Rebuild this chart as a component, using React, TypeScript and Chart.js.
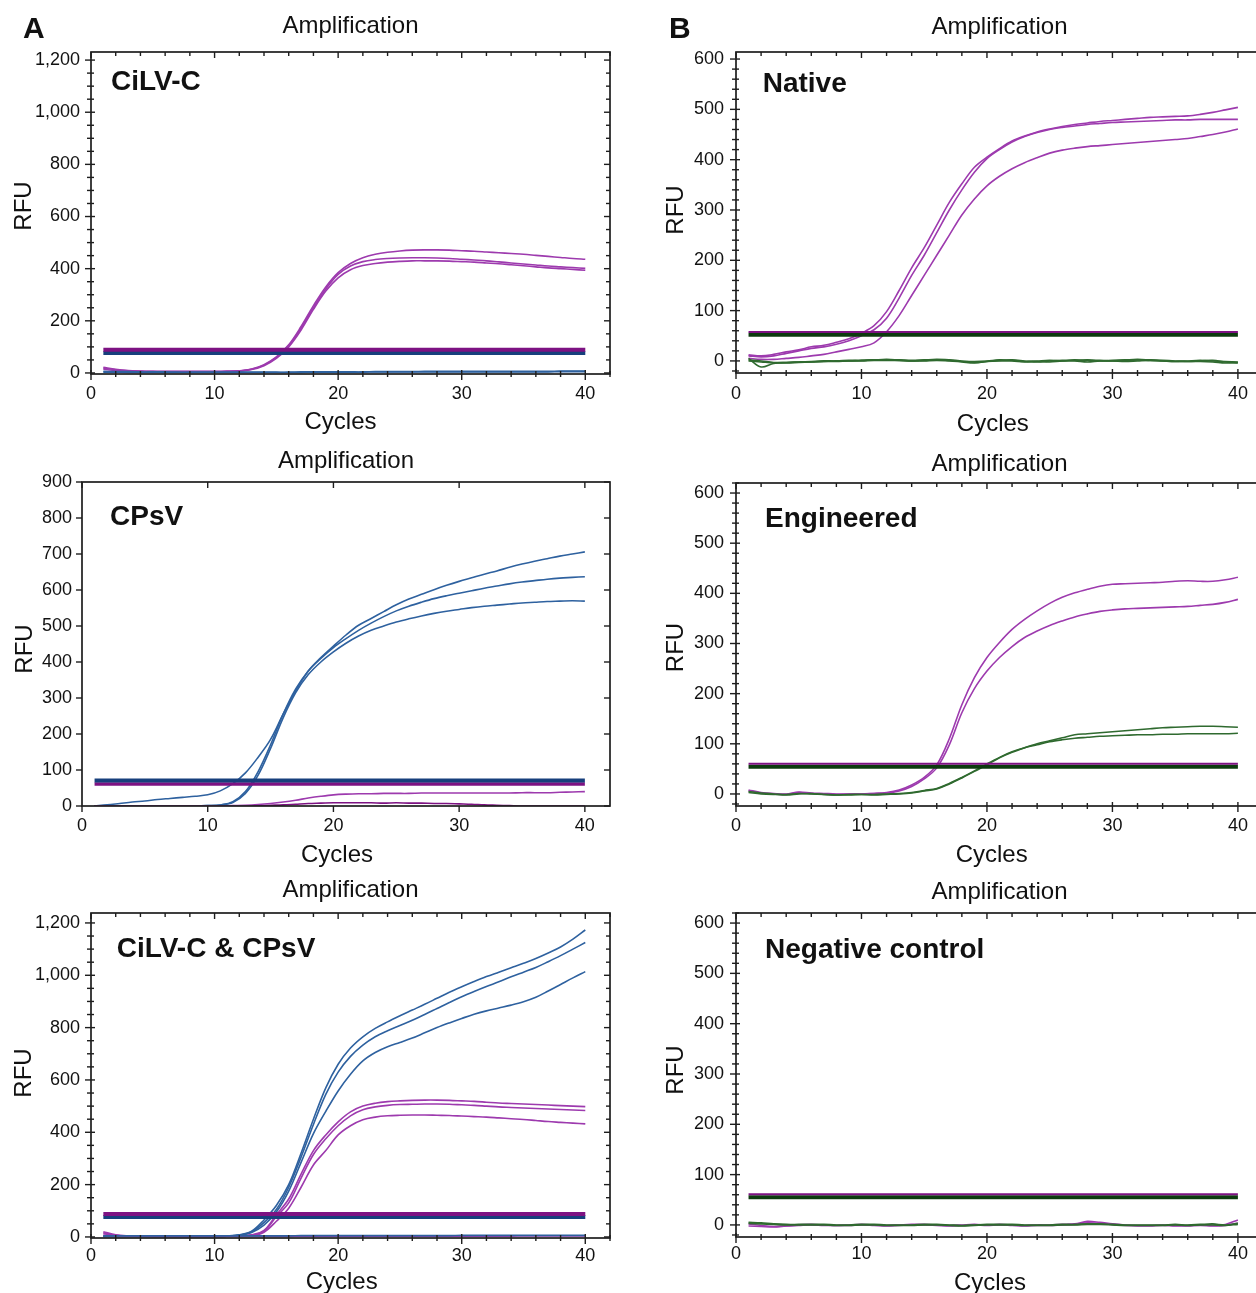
import React, { useEffect, useRef } from 'react';
import { Chart, registerables } from 'chart.js';

Chart.register(...registerables);

const FONT = "'Liberation Sans', Arial, Helvetica, sans-serif";

// ---------------- data ----------------
const CYCLES = [1, 2, 3, 4, 5, 6, 7, 8, 9, 10, 11, 12, 13, 14, 15, 16, 17, 18, 19, 20, 21, 22, 23, 24, 25, 26, 27, 28, 29, 30, 31, 32, 33, 34, 35, 36, 37, 38, 39, 40];
const X_TICKS = [0, 10, 20, 30, 40];
const Y_TICKS_1200 = [0, 200, 400, 600, 800, 1000, 1200];
const Y_TICKS_900 = [0, 100, 200, 300, 400, 500, 600, 700, 800, 900];
const Y_TICKS_600 = [0, 100, 200, 300, 400, 500, 600];

// A – CiLV-C
const CILVC_R1 = [22, 14, 9, 7, 6, 5, 5, 5, 5, 5, 6, 8, 15, 32, 62, 108, 178, 258, 330, 385, 420, 442, 455, 463, 468, 471, 472, 472, 471, 469, 467, 464, 461, 458, 455, 451, 447, 443, 439, 436];
const CILVC_R2 = [18, 12, 8, 6, 5, 5, 5, 5, 5, 5, 6, 8, 14, 30, 60, 105, 172, 250, 322, 378, 410, 427, 435, 439, 441, 442, 442, 441, 439, 436, 433, 430, 426, 422, 418, 414, 410, 407, 404, 401];
const CILVC_R3 = [14, 10, 7, 5, 5, 5, 5, 5, 5, 5, 6, 7, 13, 28, 56, 100, 165, 244, 314, 365, 396, 412, 420, 425, 428, 430, 430, 430, 429, 427, 425, 422, 419, 415, 411, 407, 403, 400, 397, 394];
const CILVC_OFF1 = [6, 5, 5, 4, 4, 4, 3, 3, 3, 3, 3, 3, 3, 3, 3, 3, 4, 4, 4, 4, 4, 4, 5, 5, 5, 5, 6, 6, 6, 6, 6, 6, 6, 6, 6, 6, 6, 7, 7, 7];
const CILVC_OFF2 = [3, 3, 2, 2, 2, 2, 2, 2, 2, 2, 2, 2, 2, 2, 2, 2, 2, 3, 3, 3, 3, 3, 4, 4, 4, 4, 4, 4, 4, 4, 4, 4, 4, 4, 4, 4, 4, 5, 5, 5];
const CILVC_THR_CILVC = 89;
const CILVC_THR_CPSV = 77;

// A – CPsV
const CPSV_R1 = [0, 3, 7, 11, 14, 18, 21, 24, 27, 31, 42, 62, 92, 135, 185, 255, 320, 375, 412, 444, 475, 502, 521, 540, 559, 575, 588, 601, 613, 624, 634, 644, 653, 663, 672, 680, 687, 694, 700, 706];
const CPSV_R2 = [0, 0, 0, 0, 0, 0, 0, 0, 0, 1, 3, 12, 40, 95, 170, 255, 325, 375, 410, 440, 465, 488, 508, 526, 542, 555, 566, 576, 584, 591, 598, 605, 611, 617, 622, 626, 630, 633, 635, 637];
const CPSV_R3 = [0, 0, 0, 0, 0, 0, 0, 0, 0, 1, 3, 10, 35, 85, 160, 245, 315, 365, 400, 428, 452, 472, 488, 500, 511, 520, 528, 535, 541, 546, 551, 555, 558, 561, 564, 566, 568, 569, 570, 569];
const CPSV_OFF1 = [0, 0, 0, 0, 0, 0, 0, 0, 0, 0, 0, 1, 2, 4, 7, 11, 16, 22, 27, 31, 33, 34, 34, 35, 35, 35, 36, 36, 36, 36, 36, 36, 36, 36, 37, 37, 37, 38, 39, 40];
const CPSV_OFF2 = [0, 0, 0, 0, 0, 0, 0, 0, 0, 0, 0, 0, 0, 1, 2, 3, 5, 7, 8, 9, 9, 9, 9, 8, 9, 8, 8, 7, 7, 6, 5, 3, 2, 1, 0, 0, 0, 0, 0, 0];
const CPSV_THR_CPSV = 71;
const CPSV_THR_CILVC = 61;

// A – CiLV-C & CPsV
const DUAL_CPSV_R1 = [3, 3, 3, 3, 3, 3, 3, 3, 3, 3, 4, 8, 22, 65, 120, 200, 320, 450, 570, 660, 722, 765, 797, 822, 845, 867, 889, 912, 935, 956, 976, 995, 1012, 1029, 1046, 1064, 1085, 1108, 1138, 1173];
const DUAL_CPSV_R2 = [2, 2, 2, 2, 2, 2, 2, 2, 2, 2, 3, 7, 20, 55, 105, 190, 305, 430, 545, 630, 690, 733, 765, 788, 808, 828, 850, 873, 896, 918, 938, 957, 975, 994, 1012, 1030, 1052, 1075, 1100, 1125];
const DUAL_CPSV_R3 = [2, 2, 2, 2, 2, 2, 2, 2, 2, 2, 3, 6, 17, 45, 95, 175, 285, 395, 480, 558, 622, 673, 705, 727, 743, 760, 780, 800, 818, 835, 851, 864, 875, 886, 899, 916, 940, 965, 990, 1014];
const DUAL_CILVC_R1 = [20, 8, 4, 3, 3, 3, 3, 3, 3, 3, 3, 4, 8, 25, 85, 145, 240, 330, 390, 440, 478, 500, 511, 517, 520, 522, 523, 523, 522, 520, 518, 515, 512, 510, 508, 506, 504, 502, 500, 498];
const DUAL_CILVC_R2 = [16, 6, 3, 3, 3, 3, 3, 3, 3, 3, 3, 4, 7, 22, 78, 130, 225, 315, 375, 425, 463, 486, 497, 503, 506, 507, 508, 508, 507, 505, 503, 500, 497, 495, 493, 491, 489, 487, 485, 483];
const DUAL_CILVC_R3 = [12, 5, 3, 3, 3, 3, 3, 3, 3, 3, 3, 3, 5, 18, 60, 110, 190, 275, 330, 390, 425, 448, 458, 463, 465, 466, 466, 465, 464, 462, 460, 458, 455, 452, 449, 445, 441, 438, 435, 432];
const DUAL_OFF1 = [4, 4, 4, 4, 4, 4, 4, 4, 4, 4, 4, 4, 4, 4, 4, 4, 5, 5, 5, 5, 5, 5, 5, 5, 5, 5, 5, 5, 5, 6, 6, 6, 6, 6, 6, 6, 6, 6, 6, 6];
const DUAL_OFF2 = [6, 4, 3, 3, 2, 2, 2, 2, 2, 2, 2, 2, 2, 2, 2, 2, 3, 3, 3, 3, 3, 3, 3, 3, 3, 3, 3, 3, 3, 3, 3, 3, 3, 3, 4, 4, 4, 4, 4, 4];
const DUAL_THR_CILVC = 88;
const DUAL_THR_CPSV = 76;

// B – Native
const NATIVE_R1 = [12, 10, 13, 18, 22, 28, 31, 37, 44, 55, 70, 98, 140, 185, 225, 270, 315, 352, 385, 405, 422, 437, 447, 455, 461, 466, 470, 473, 476, 478, 480, 482, 484, 485, 486, 487, 490, 494, 499, 504];
const NATIVE_R2 = [10, 8, 10, 15, 20, 25, 28, 33, 40, 50, 62, 85, 125, 170, 210, 255, 300, 340, 375, 402, 420, 435, 446, 454, 460, 464, 467, 470, 472, 474, 475, 476, 477, 478, 479, 479, 480, 480, 480, 480];
const NATIVE_R3 = [5, 3, 3, 5, 7, 10, 13, 18, 23, 28, 36, 58, 90, 130, 170, 210, 250, 290, 322, 348, 367, 382, 394, 404, 413, 419, 423, 426, 428, 430, 432, 434, 436, 438, 440, 442, 446, 450, 455, 461];
const NATIVE_G1 = [5, -12, -5, -3, -2, -2, -1, 0, 0, 1, 2, 3, 2, 1, 2, 3, 2, 0, -3, -1, 1, 2, 0, -2, 0, 1, 2, 1, 0, 1, 2, 3, 2, 1, 0, -1, 0, 1, -2, -4];
const NATIVE_G2 = [2, 0, -3, -3, -2, -1, 0, 0, 1, 1, 2, 2, 1, 0, 1, 2, 1, -1, -1, 0, 2, 1, -1, 0, 1, 0, 1, 2, 1, 0, 1, 2, 1, 0, -1, 0, 1, 0, -1, -2];
const NATIVE_G3 = [0, -2, -4, -4, -3, -2, -1, -1, 0, 0, 1, 1, 1, 0, 0, 1, 0, -2, -4, -1, 0, 0, -2, -1, -2, 0, 0, -2, 0, 0, -1, 0, 1, 0, -1, -1, -1, -2, -4, -3];
const NATIVE_THR_P = 57.5;
const NATIVE_THR_G = 52;

// B – Engineered
const ENG_R1 = [8, 3, 1, 0, 4, 2, 1, 0, 0, 0, 1, 3, 8, 18, 33, 58, 110, 178, 232, 272, 302, 328, 348, 365, 380, 392, 401, 408, 414, 418, 419, 420, 421, 422, 424, 425, 424, 424, 427, 432];
const ENG_R2 = [6, 2, 0, -1, 3, 1, 0, -1, 0, 0, 1, 2, 6, 15, 30, 52, 98, 162, 210, 245, 272, 294, 312, 325, 336, 345, 353, 359, 364, 367, 369, 370, 371, 372, 373, 374, 376, 378, 382, 388];
const ENG_G1 = [5, 2, 0, -2, 0, 1, -1, -2, -1, -1, -2, -1, 0, 2, 6, 10, 20, 32, 45, 58, 72, 83, 92, 100, 106, 112, 118, 120, 122, 124, 126, 128, 130, 132, 133, 134, 135, 135, 134, 133];
const ENG_G2 = [3, 0, -1, -1, 1, 0, -1, -2, -2, -1, -1, 0, 1, 3, 7, 11, 21, 33, 46, 60, 73, 84, 92, 98, 104, 108, 111, 113, 115, 116, 117, 118, 118, 119, 119, 120, 120, 120, 120, 121];
const ENG_THR_P = 60;
const ENG_THR_G = 54.5;

// B – Negative control
const NEG_P1 = [2, -1, -3, -2, 0, 1, 0, -1, 0, 1, 0, -1, 0, 1, 1, 0, -1, 0, 1, 0, 1, 0, -1, 0, 0, 1, 2, 7, 5, 2, 0, -1, -1, 0, -1, -1, 0, -1, 1, 10];
const NEG_P2 = [-2, -3, -4, -2, -1, 0, -1, -1, -1, 0, -1, -2, -1, 0, 0, -1, -2, -1, 0, -1, 0, -1, -2, -1, -1, 0, 1, 4, 3, 1, -1, -2, -2, -1, -2, -2, -1, -2, -1, 4];
const NEG_G1 = [5, 4, 2, 1, 1, 1, 1, 0, 0, 1, 1, 0, 0, 0, 1, 1, 0, -1, 0, 1, 1, 1, 0, 0, 0, 1, 1, 2, 2, 1, 0, 0, 0, 0, 1, 0, 1, 2, 0, 3];
const NEG_G2 = [3, 2, 1, 0, 0, 0, 0, -1, -1, 0, 0, -1, -1, -1, 0, 0, -1, -2, -1, 0, 0, 0, -1, -1, -1, 0, 0, 1, 1, 0, -1, -1, -1, -1, 0, -1, 0, 0, -1, 1];
const NEG_THR_P = 61;
const NEG_THR_G = 55;

// ---------------- styles ----------------
const C_PURPLE = '#9d3aae';
const C_BLUE = '#2e619f';
const C_GREEN = '#2f6a2f';
const C_THR_PURPLE = '#7d1282';
const C_THR_NAVY = '#173f7c';
const C_THR_GREEN = '#0c3a0e';
const C_AXIS = '#1e1e1e';

type Series = { data: number[]; color: string };
type Thr = { value: number; color: string; width: number };
interface Panel {
  id: string;
  box: { left: number; top: number; width: number; height: number };
  area: { left: number; top: number; right: number; bottom: number };
  yMin: number; yMax: number; yTicks: number[]; yMinor: number | null; xMinor: number | null;
  cross: boolean; xPad: number; yPad: number;
  titleY: number; cycles: { x: number; y: number }; rfu: { x: number; y: number };
  label: { text: string; x: number; y: number };
  letter?: { text: string; x: number; y: number };
  thresholds: Thr[]; series: Series[];
}

const PANELS: Panel[] = [
  {
    id: 'a1', box: { left: 0, top: 0, width: 630, height: 440 },
    area: { left: 91, top: 52, right: 610, bottom: 374 },
    yMin: -4, yMax: 1231, yTicks: Y_TICKS_1200, yMinor: 50, xMinor: 2, cross: true, xPad: 9, yPad: 11,
    titleY: 33, cycles: { x: 340.5, y: 429 }, rfu: { x: 30.7, y: 206 },
    label: { text: 'CiLV-C', x: 111, y: 90 }, letter: { text: 'A', x: 23, y: 38.3 },
    thresholds: [
      { value: CILVC_THR_CILVC, color: C_THR_PURPLE, width: 4 },
      { value: CILVC_THR_CPSV, color: C_THR_NAVY, width: 4 },
    ],
    series: [
      { data: CILVC_OFF1, color: C_BLUE }, { data: CILVC_OFF2, color: C_BLUE },
      { data: CILVC_R1, color: C_PURPLE }, { data: CILVC_R2, color: C_PURPLE }, { data: CILVC_R3, color: C_PURPLE },
    ],
  },
  {
    id: 'a2', box: { left: 0, top: 440, width: 630, height: 430 },
    area: { left: 82, top: 482, right: 610, bottom: 806 },
    yMin: 0, yMax: 900, yTicks: Y_TICKS_900, yMinor: null, xMinor: null, cross: false, xPad: 9, yPad: 10,
    titleY: 468, cycles: { x: 337, y: 861.5 }, rfu: { x: 31.5, y: 649 },
    label: { text: 'CPsV', x: 110, y: 525 },
    thresholds: [
      { value: CPSV_THR_CPSV, color: C_THR_NAVY, width: 4 },
      { value: CPSV_THR_CILVC, color: C_THR_PURPLE, width: 3.5 },
    ],
    series: [
      { data: CPSV_OFF1, color: C_PURPLE }, { data: CPSV_OFF2, color: C_THR_PURPLE },
      { data: CPSV_R1, color: C_BLUE }, { data: CPSV_R2, color: C_BLUE }, { data: CPSV_R3, color: C_BLUE },
    ],
  },
  {
    id: 'a3', box: { left: 0, top: 870, width: 630, height: 423 },
    area: { left: 91, top: 913, right: 610, bottom: 1238 },
    yMin: -4, yMax: 1238, yTicks: Y_TICKS_1200, yMinor: 50, xMinor: 2, cross: true, xPad: 7, yPad: 11,
    titleY: 897.3, cycles: { x: 341.7, y: 1289 }, rfu: { x: 30.7, y: 1073 },
    label: { text: 'CiLV-C & CPsV', x: 116.7, y: 957.3 },
    thresholds: [
      { value: DUAL_THR_CILVC, color: C_THR_PURPLE, width: 4 },
      { value: DUAL_THR_CPSV, color: C_THR_NAVY, width: 4 },
    ],
    series: [
      { data: DUAL_OFF1, color: C_BLUE }, { data: DUAL_OFF2, color: C_PURPLE },
      { data: DUAL_CPSV_R1, color: C_BLUE }, { data: DUAL_CPSV_R2, color: C_BLUE }, { data: DUAL_CPSV_R3, color: C_BLUE },
      { data: DUAL_CILVC_R1, color: C_PURPLE }, { data: DUAL_CILVC_R2, color: C_PURPLE }, { data: DUAL_CILVC_R3, color: C_PURPLE },
    ],
  },
  {
    id: 'b1', box: { left: 640, top: 0, width: 640, height: 440 },
    area: { left: 736, top: 52, right: 1263, bottom: 373 },
    yMin: -24, yMax: 614, yTicks: Y_TICKS_600, yMinor: 20, xMinor: 2, cross: true, xPad: 10, yPad: 12,
    titleY: 34.3, cycles: { x: 992.8, y: 430.5 }, rfu: { x: 683.3, y: 210 },
    label: { text: 'Native', x: 762.7, y: 91.7 }, letter: { text: 'B', x: 669, y: 38.3 },
    thresholds: [
      { value: NATIVE_THR_P, color: C_THR_PURPLE, width: 2 },
      { value: NATIVE_THR_G, color: C_THR_GREEN, width: 4 },
    ],
    series: [
      { data: NATIVE_G1, color: C_GREEN }, { data: NATIVE_G2, color: C_GREEN }, { data: NATIVE_G3, color: C_GREEN },
      { data: NATIVE_R1, color: C_PURPLE }, { data: NATIVE_R2, color: C_PURPLE }, { data: NATIVE_R3, color: C_PURPLE },
    ],
  },
  {
    id: 'b2', box: { left: 640, top: 440, width: 640, height: 430 },
    area: { left: 736, top: 483, right: 1263, bottom: 806 },
    yMin: -24, yMax: 620, yTicks: Y_TICKS_600, yMinor: 20, xMinor: 2, cross: true, xPad: 9, yPad: 12,
    titleY: 470.7, cycles: { x: 991.7, y: 862 }, rfu: { x: 683.3, y: 647.5 },
    label: { text: 'Engineered', x: 765, y: 526.7 },
    thresholds: [
      { value: ENG_THR_P, color: C_THR_PURPLE, width: 2 },
      { value: ENG_THR_G, color: C_THR_GREEN, width: 4 },
    ],
    series: [
      { data: ENG_G1, color: C_GREEN }, { data: ENG_G2, color: C_GREEN },
      { data: ENG_R1, color: C_PURPLE }, { data: ENG_R2, color: C_PURPLE },
    ],
  },
  {
    id: 'b3', box: { left: 640, top: 870, width: 640, height: 423 },
    area: { left: 736, top: 913, right: 1263, bottom: 1237 },
    yMin: -24, yMax: 620, yTicks: Y_TICKS_600, yMinor: 20, xMinor: 2, cross: true, xPad: 6, yPad: 12,
    titleY: 899.3, cycles: { x: 990, y: 1290 }, rfu: { x: 683.3, y: 1070 },
    label: { text: 'Negative control', x: 765, y: 958.3 },
    thresholds: [
      { value: NEG_THR_P, color: C_THR_PURPLE, width: 2 },
      { value: NEG_THR_G, color: C_THR_GREEN, width: 4 },
    ],
    series: [
      { data: NEG_G1, color: C_GREEN }, { data: NEG_G2, color: C_GREEN },
      { data: NEG_P1, color: C_PURPLE }, { data: NEG_P2, color: C_PURPLE },
    ],
  },
];

function makeOverlay(p: Panel) {
  const ox = p.box.left;
  const oy = p.box.top;
  return {
    id: 'overlay_' + p.id,
    afterDatasetsDraw(chart: any) {
      const ctx: CanvasRenderingContext2D = chart.ctx;
      const a = chart.chartArea;
      const xs = chart.scales.x;
      const ys = chart.scales.y;
      const line = (x1: number, y1: number, x2: number, y2: number) => {
        ctx.beginPath(); ctx.moveTo(x1, y1); ctx.lineTo(x2, y2); ctx.stroke();
      };
      ctx.save();
      ctx.strokeStyle = C_AXIS;
      ctx.lineWidth = 1.7;
      ctx.strokeRect(a.left, a.top, a.right - a.left, a.bottom - a.top);
      ctx.lineWidth = 1.4;
      // y ticks
      const inMaj = p.cross ? 4 : 0;
      for (const v of p.yTicks) {
        const py = ys.getPixelForValue(v);
        line(a.left - 6, py, a.left + inMaj, py);
        line(a.right - 6, py, a.right, py);
      }
      if (p.yMinor) {
        for (let v = Math.ceil(p.yMin / p.yMinor) * p.yMinor; v <= p.yMax; v += p.yMinor) {
          if (p.yTicks.includes(v)) continue;
          const py = ys.getPixelForValue(v);
          line(a.left - 4, py, a.left + 3, py);
          line(a.right - 4, py, a.right, py);
        }
      }
      // x ticks
      for (const v of X_TICKS) {
        const px = xs.getPixelForValue(v);
        line(px, a.bottom - inMaj, px, a.bottom + 6);
        line(px, a.top, px, a.top + 6);
      }
      if (p.xMinor) {
        for (let v = p.xMinor; v <= 42; v += p.xMinor) {
          if (X_TICKS.includes(v)) continue;
          const px = xs.getPixelForValue(v);
          line(px, a.bottom - 3, px, a.bottom + 3);
          line(px, a.top, px, a.top + 4);
        }
      }
      // texts
      ctx.fillStyle = '#111';
      ctx.textBaseline = 'alphabetic';
      ctx.font = `24px ${FONT}`;
      ctx.textAlign = 'center';
      ctx.fillText('Amplification', (a.left + a.right) / 2, p.titleY - oy);
      ctx.fillText('Cycles', p.cycles.x - ox, p.cycles.y - oy);
      ctx.save();
      ctx.translate(p.rfu.x - ox, p.rfu.y - oy);
      ctx.rotate(-Math.PI / 2);
      ctx.fillText('RFU', 0, 0);
      ctx.restore();
      ctx.textAlign = 'left';
      ctx.font = `bold 28px ${FONT}`;
      ctx.fillText(p.label.text, p.label.x - ox, p.label.y - oy);
      if (p.letter) {
        ctx.font = `bold 30px ${FONT}`;
        ctx.fillText(p.letter.text, p.letter.x - ox, p.letter.y - oy);
      }
      ctx.restore();
    },
  };
}

function PanelChart({ p }: { p: Panel }) {
  const ref = useRef<HTMLCanvasElement>(null);
  useEffect(() => {
    const cv = ref.current;
    if (!cv) return;
    const first = CYCLES[0];
    const last = CYCLES[CYCLES.length - 1];
    const datasets: any[] = [
      ...p.thresholds.map((t) => ({
        data: [{ x: first, y: t.value }, { x: last, y: t.value }],
        borderColor: t.color, borderWidth: t.width, pointRadius: 0, borderCapStyle: 'butt',
      })),
      ...p.series.map((s) => ({
        data: CYCLES.map((c, i) => ({ x: c, y: s.data[i] })),
        borderColor: s.color, borderWidth: 1.6, pointRadius: 0, tension: 0.35,
      })),
    ];
    const chart = new Chart(cv, {
      type: 'line',
      data: { datasets },
      options: {
        animation: false,
        responsive: false,
        devicePixelRatio: 1,
        layout: {
          padding: {
            left: 0,
            top: p.area.top - p.box.top,
            right: p.box.left + p.box.width - p.area.right,
            bottom: 0,
          },
        },
        plugins: { legend: { display: false }, tooltip: { enabled: false }, title: { display: false } },
        scales: {
          x: {
            type: 'linear', min: 0, max: 42, position: 'bottom',
            grid: { display: false, drawTicks: false },
            border: { display: false },
            afterBuildTicks: (s: any) => { s.ticks = X_TICKS.map((v) => ({ value: v })); },
            afterFit: (s: any) => { s.height = p.box.top + p.box.height - p.area.bottom; },
            ticks: {
              padding: p.xPad, autoSkip: false, maxRotation: 0, color: '#111',
              font: { family: FONT, size: 18 },
              callback: (v: any) => String(v),
            },
          },
          y: {
            type: 'linear', min: p.yMin, max: p.yMax, position: 'left',
            grid: { display: false, drawTicks: false },
            border: { display: false },
            afterBuildTicks: (s: any) => { s.ticks = p.yTicks.map((v) => ({ value: v })); },
            afterFit: (s: any) => { s.width = p.area.left - p.box.left; },
            ticks: {
              padding: p.yPad, autoSkip: false, color: '#111',
              font: { family: FONT, size: 18 },
              callback: (v: any) => Number(v).toLocaleString('en-US'),
            },
          },
        },
      } as any,
      plugins: [makeOverlay(p)],
    });
    return () => chart.destroy();
  }, [p]);
  return (
    <canvas
      ref={ref}
      width={p.box.width}
      height={p.box.height}
      style={{ position: 'absolute', left: p.box.left, top: p.box.top, width: p.box.width, height: p.box.height }}
    />
  );
}

export default function App() {
  return (
    <div style={{ position: 'absolute', left: 0, top: 0, width: 1256, height: 1293, overflow: 'hidden', background: '#fff' }}>
      {PANELS.map((p) => (
        <PanelChart key={p.id} p={p} />
      ))}
    </div>
  );
}
